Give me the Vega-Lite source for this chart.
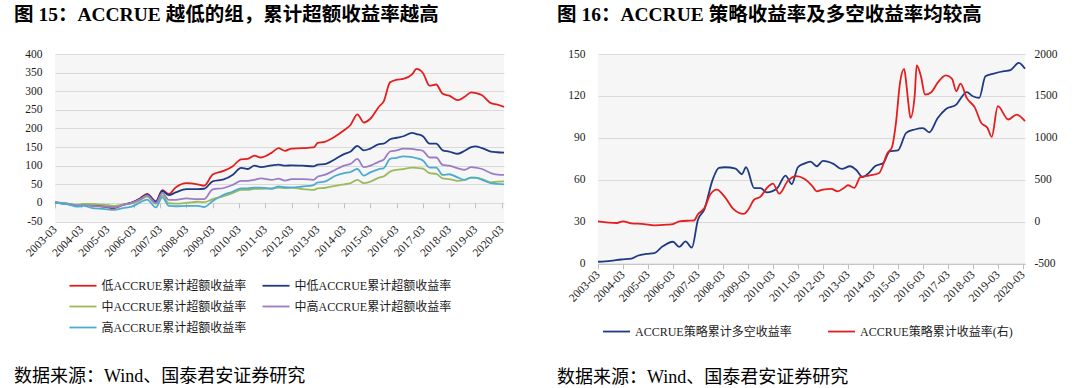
{
 "$schema": "https://vega.github.io/schema/vega-lite/v6.json",
 "background": "white",
 "padding": {"left": 14, "top": 5, "right": 5, "bottom": 5},
 "spacing": 49,
 "resolve": {"scale": {"color": "independent"}, "legend": {"color": "independent"}},
 "config": {
  "font": "Liberation Serif, Noto Sans CJK SC",
  "view": {"stroke": null, "fill": "#f6f6f6"},
  "axis": {"labelFont": "Liberation Serif, Noto Sans CJK SC", "labelFontSize": 11.5, "labelColor": "#1a1a1a", "gridColor": "#d9d9d9", "gridWidth": 1, "domain": false, "ticks": false, "tickSize": 0, "title": null},
  "legend": {"labelFont": "Liberation Serif, Noto Sans CJK SC", "labelFontSize": 12, "labelColor": "#1a1a1a", "labelLimit": 400, "symbolType": "stroke", "symbolSize": 729, "symbolStrokeWidth": 2, "labelOffset": 4},
  "line": {"strokeWidth": 1.8, "interpolate": "monotone"}
 },
 "datasets": {
  "L": [
   {"d":"2003-03","s":"低","v":1},{"d":"2003-03","s":"中低","v":1},{"d":"2003-03","s":"中","v":1},{"d":"2003-03","s":"中高","v":1},{"d":"2003-03","s":"高","v":1},
   {"d":"2003-09","s":"低","v":-3},{"d":"2003-09","s":"中低","v":-3},{"d":"2003-09","s":"中","v":-2},{"d":"2003-09","s":"中高","v":-3},{"d":"2003-09","s":"高","v":-4},
   {"d":"2004-01","s":"低","v":-7},{"d":"2004-01","s":"中低","v":-7},{"d":"2004-01","s":"中","v":-5},{"d":"2004-01","s":"中高","v":-7},{"d":"2004-01","s":"高","v":-10},
   {"d":"2004-04","s":"低","v":-5},{"d":"2004-04","s":"中低","v":-5},{"d":"2004-04","s":"中","v":-3},{"d":"2004-04","s":"中高","v":-6},{"d":"2004-04","s":"高","v":-8},
   {"d":"2004-08","s":"低","v":-7},{"d":"2004-08","s":"中低","v":-7},{"d":"2004-08","s":"中","v":-3},{"d":"2004-08","s":"中高","v":-8},{"d":"2004-08","s":"高","v":-14},
   {"d":"2005-01","s":"低","v":-10},{"d":"2005-01","s":"中低","v":-9},{"d":"2005-01","s":"中","v":-5},{"d":"2005-01","s":"中高","v":-10},{"d":"2005-01","s":"高","v":-16},
   {"d":"2005-06","s":"低","v":-14},{"d":"2005-06","s":"中低","v":-12},{"d":"2005-06","s":"中","v":-8},{"d":"2005-06","s":"中高","v":-12},{"d":"2005-06","s":"高","v":-19},
   {"d":"2005-10","s":"低","v":-5},{"d":"2005-10","s":"中低","v":-5},{"d":"2005-10","s":"中","v":-4},{"d":"2005-10","s":"中高","v":-6},{"d":"2005-10","s":"高","v":-14},
   {"d":"2006-02","s":"低","v":1},{"d":"2006-02","s":"中低","v":1},{"d":"2006-02","s":"中","v":-1},{"d":"2006-02","s":"中高","v":0},{"d":"2006-02","s":"高","v":-10},
   {"d":"2006-06","s":"低","v":13},{"d":"2006-06","s":"中低","v":12},{"d":"2006-06","s":"中","v":8},{"d":"2006-06","s":"中高","v":10},{"d":"2006-06","s":"高","v":2},
   {"d":"2006-09","s":"低","v":24},{"d":"2006-09","s":"中低","v":23},{"d":"2006-09","s":"中","v":17},{"d":"2006-09","s":"中高","v":20},{"d":"2006-09","s":"高","v":9},
   {"d":"2007-01","s":"低","v":4},{"d":"2007-01","s":"中低","v":3},{"d":"2007-01","s":"中","v":-2},{"d":"2007-01","s":"中高","v":-1},{"d":"2007-01","s":"高","v":-12},
   {"d":"2007-04","s":"低","v":34},{"d":"2007-04","s":"中低","v":32},{"d":"2007-04","s":"中","v":20},{"d":"2007-04","s":"中高","v":27},{"d":"2007-04","s":"高","v":15},
   {"d":"2007-07","s":"低","v":24},{"d":"2007-07","s":"中低","v":21},{"d":"2007-07","s":"中","v":-1},{"d":"2007-07","s":"中高","v":8},{"d":"2007-07","s":"高","v":-8},
   {"d":"2007-10","s":"低","v":41},{"d":"2007-10","s":"中低","v":28},{"d":"2007-10","s":"中","v":-2},{"d":"2007-10","s":"中高","v":8},{"d":"2007-10","s":"高","v":-9},
   {"d":"2008-03","s":"低","v":53},{"d":"2008-03","s":"中低","v":37},{"d":"2008-03","s":"中","v":0},{"d":"2008-03","s":"中高","v":12},{"d":"2008-03","s":"高","v":-8},
   {"d":"2008-08","s":"低","v":50},{"d":"2008-08","s":"中低","v":37},{"d":"2008-08","s":"中","v":3},{"d":"2008-08","s":"中高","v":10},{"d":"2008-08","s":"高","v":-8},
   {"d":"2008-11","s":"低","v":46},{"d":"2008-11","s":"中低","v":38},{"d":"2008-11","s":"中","v":2},{"d":"2008-11","s":"中高","v":10},{"d":"2008-11","s":"高","v":-11},
   {"d":"2009-03","s":"低","v":76},{"d":"2009-03","s":"中低","v":58},{"d":"2009-03","s":"中","v":10},{"d":"2009-03","s":"中高","v":36},{"d":"2009-03","s":"高","v":5},
   {"d":"2009-08","s":"低","v":86},{"d":"2009-08","s":"中低","v":63},{"d":"2009-08","s":"中","v":18},{"d":"2009-08","s":"中高","v":40},{"d":"2009-08","s":"高","v":22},
   {"d":"2009-12","s":"低","v":98},{"d":"2009-12","s":"中低","v":75},{"d":"2009-12","s":"中","v":26},{"d":"2009-12","s":"中高","v":48},{"d":"2009-12","s":"高","v":30},
   {"d":"2010-04","s":"低","v":117},{"d":"2010-04","s":"中低","v":94},{"d":"2010-04","s":"中","v":35},{"d":"2010-04","s":"中高","v":59},{"d":"2010-04","s":"高","v":39},
   {"d":"2010-07","s":"低","v":118},{"d":"2010-07","s":"中低","v":91},{"d":"2010-07","s":"中","v":35},{"d":"2010-07","s":"中高","v":59},{"d":"2010-07","s":"高","v":39},
   {"d":"2010-10","s":"低","v":127},{"d":"2010-10","s":"中低","v":100},{"d":"2010-10","s":"中","v":38},{"d":"2010-10","s":"中高","v":62},{"d":"2010-10","s":"高","v":41},
   {"d":"2011-01","s":"低","v":122},{"d":"2011-01","s":"中低","v":96},{"d":"2011-01","s":"中","v":38},{"d":"2011-01","s":"中高","v":66},{"d":"2011-01","s":"高","v":41},
   {"d":"2011-06","s":"低","v":135},{"d":"2011-06","s":"中低","v":101},{"d":"2011-06","s":"中","v":39},{"d":"2011-06","s":"中高","v":62},{"d":"2011-06","s":"高","v":38},
   {"d":"2011-09","s":"低","v":147},{"d":"2011-09","s":"中低","v":103},{"d":"2011-09","s":"中","v":41},{"d":"2011-09","s":"中高","v":65},{"d":"2011-09","s":"高","v":44},
   {"d":"2011-12","s":"低","v":140},{"d":"2011-12","s":"中低","v":100},{"d":"2011-12","s":"中","v":40},{"d":"2011-12","s":"中高","v":60},{"d":"2011-12","s":"高","v":42},
   {"d":"2012-03","s":"低","v":146},{"d":"2012-03","s":"中低","v":101},{"d":"2012-03","s":"中","v":41},{"d":"2012-03","s":"中高","v":64},{"d":"2012-03","s":"高","v":41},
   {"d":"2012-08","s":"低","v":147},{"d":"2012-08","s":"中低","v":100},{"d":"2012-08","s":"中","v":37},{"d":"2012-08","s":"中高","v":64},{"d":"2012-08","s":"高","v":44},
   {"d":"2013-01","s":"低","v":149},{"d":"2013-01","s":"中低","v":98},{"d":"2013-01","s":"中","v":35},{"d":"2013-01","s":"中高","v":62},{"d":"2013-01","s":"高","v":48},
   {"d":"2013-03","s":"低","v":161},{"d":"2013-03","s":"中低","v":103},{"d":"2013-03","s":"中","v":39},{"d":"2013-03","s":"中高","v":71},{"d":"2013-03","s":"高","v":55},
   {"d":"2013-06","s":"低","v":164},{"d":"2013-06","s":"中低","v":104},{"d":"2013-06","s":"中","v":40},{"d":"2013-06","s":"中高","v":75},{"d":"2013-06","s":"高","v":57},
   {"d":"2013-11","s":"低","v":179},{"d":"2013-11","s":"中低","v":118},{"d":"2013-11","s":"中","v":46},{"d":"2013-11","s":"中高","v":89},{"d":"2013-11","s":"高","v":73},
   {"d":"2014-03","s":"低","v":195},{"d":"2014-03","s":"中低","v":131},{"d":"2014-03","s":"中","v":50},{"d":"2014-03","s":"中高","v":100},{"d":"2014-03","s":"高","v":80},
   {"d":"2014-06","s":"低","v":210},{"d":"2014-06","s":"中低","v":138},{"d":"2014-06","s":"中","v":53},{"d":"2014-06","s":"中高","v":105},{"d":"2014-06","s":"高","v":83},
   {"d":"2014-09","s":"低","v":238},{"d":"2014-09","s":"中低","v":153},{"d":"2014-09","s":"中","v":62},{"d":"2014-09","s":"中高","v":118},{"d":"2014-09","s":"高","v":91},
   {"d":"2014-12","s":"低","v":216},{"d":"2014-12","s":"中低","v":141},{"d":"2014-12","s":"中","v":53},{"d":"2014-12","s":"中高","v":96},{"d":"2014-12","s":"高","v":73},
   {"d":"2015-03","s":"低","v":226},{"d":"2015-03","s":"中低","v":146},{"d":"2015-03","s":"中","v":57},{"d":"2015-03","s":"中高","v":100},{"d":"2015-03","s":"高","v":82},
   {"d":"2015-07","s":"低","v":259},{"d":"2015-07","s":"中低","v":158},{"d":"2015-07","s":"中","v":68},{"d":"2015-07","s":"中高","v":111},{"d":"2015-07","s":"高","v":91},
   {"d":"2015-09","s":"低","v":272},{"d":"2015-09","s":"中低","v":159},{"d":"2015-09","s":"中","v":71},{"d":"2015-09","s":"中高","v":116},{"d":"2015-09","s":"高","v":93},
   {"d":"2015-12","s":"低","v":324},{"d":"2015-12","s":"中低","v":171},{"d":"2015-12","s":"中","v":84},{"d":"2015-12","s":"中高","v":138},{"d":"2015-12","s":"高","v":118},
   {"d":"2016-03","s":"低","v":331},{"d":"2016-03","s":"中低","v":175},{"d":"2016-03","s":"中","v":89},{"d":"2016-03","s":"中高","v":141},{"d":"2016-03","s":"高","v":121},
   {"d":"2016-06","s":"低","v":333},{"d":"2016-06","s":"中低","v":179},{"d":"2016-06","s":"中","v":91},{"d":"2016-06","s":"中高","v":146},{"d":"2016-06","s":"高","v":125},
   {"d":"2016-10","s":"低","v":345},{"d":"2016-10","s":"中低","v":188},{"d":"2016-10","s":"中","v":95},{"d":"2016-10","s":"中高","v":145},{"d":"2016-10","s":"高","v":123},
   {"d":"2016-12","s":"低","v":360},{"d":"2016-12","s":"中低","v":185},{"d":"2016-12","s":"中","v":94},{"d":"2016-12","s":"中高","v":143},{"d":"2016-12","s":"高","v":120},
   {"d":"2017-03","s":"低","v":349},{"d":"2017-03","s":"中低","v":179},{"d":"2017-03","s":"中","v":92},{"d":"2017-03","s":"中高","v":140},{"d":"2017-03","s":"高","v":114},
   {"d":"2017-06","s":"低","v":315},{"d":"2017-06","s":"中低","v":159},{"d":"2017-06","s":"中","v":80},{"d":"2017-06","s":"中高","v":122},{"d":"2017-06","s":"高","v":95},
   {"d":"2017-09","s":"低","v":318},{"d":"2017-09","s":"中低","v":159},{"d":"2017-09","s":"中","v":78},{"d":"2017-09","s":"中高","v":122},{"d":"2017-09","s":"高","v":95},
   {"d":"2017-12","s":"低","v":293},{"d":"2017-12","s":"中低","v":141},{"d":"2017-12","s":"中","v":66},{"d":"2017-12","s":"中高","v":102},{"d":"2017-12","s":"高","v":75},
   {"d":"2018-03","s":"低","v":288},{"d":"2018-03","s":"中低","v":138},{"d":"2018-03","s":"中","v":64},{"d":"2018-03","s":"中高","v":100},{"d":"2018-03","s":"高","v":77},
   {"d":"2018-07","s":"低","v":276},{"d":"2018-07","s":"中低","v":132},{"d":"2018-07","s":"中","v":59},{"d":"2018-07","s":"中高","v":93},{"d":"2018-07","s":"高","v":68},
   {"d":"2018-10","s":"低","v":285},{"d":"2018-10","s":"中低","v":140},{"d":"2018-10","s":"中","v":62},{"d":"2018-10","s":"中高","v":89},{"d":"2018-10","s":"高","v":62},
   {"d":"2019-01","s":"低","v":297},{"d":"2019-01","s":"中低","v":150},{"d":"2019-01","s":"中","v":68},{"d":"2019-01","s":"中高","v":96},{"d":"2019-01","s":"高","v":68},
   {"d":"2019-03","s":"低","v":295},{"d":"2019-03","s":"中低","v":152},{"d":"2019-03","s":"中","v":67},{"d":"2019-03","s":"中高","v":95},{"d":"2019-03","s":"高","v":68},
   {"d":"2019-06","s":"低","v":289},{"d":"2019-06","s":"中低","v":147},{"d":"2019-06","s":"中","v":64},{"d":"2019-06","s":"中高","v":91},{"d":"2019-06","s":"高","v":62},
   {"d":"2019-10","s":"低","v":268},{"d":"2019-10","s":"中低","v":138},{"d":"2019-10","s":"中","v":55},{"d":"2019-10","s":"中高","v":80},{"d":"2019-10","s":"高","v":53},
   {"d":"2020-01","s":"低","v":264},{"d":"2020-01","s":"中低","v":136},{"d":"2020-01","s":"中","v":57},{"d":"2020-01","s":"中高","v":76},{"d":"2020-01","s":"高","v":51},
   {"d":"2020-04","s":"低","v":258},{"d":"2020-04","s":"中低","v":135},{"d":"2020-04","s":"中","v":58},{"d":"2020-04","s":"中高","v":75},{"d":"2020-04","s":"高","v":50}
  ],
  "R": [
   {"d":"2003-03","s":"多空","v":1.4},{"d":"2003-09","s":"多空","v":2},{"d":"2004-02","s":"多空","v":3},{"d":"2004-07","s":"多空","v":3.6},{"d":"2004-10","s":"多空","v":5.7},
   {"d":"2005-02","s":"多空","v":7},{"d":"2005-06","s":"多空","v":7.6},{"d":"2005-10","s":"多空","v":12.4},{"d":"2006-03","s":"多空","v":15.7},{"d":"2006-06","s":"多空","v":12},
   {"d":"2006-09","s":"多空","v":16},{"d":"2006-12","s":"多空","v":11.5},{"d":"2007-03","s":"多空","v":31.5},{"d":"2007-06","s":"多空","v":38.7},{"d":"2007-10","s":"多空","v":60},
   {"d":"2008-01","s":"多空","v":68.5},{"d":"2008-04","s":"多空","v":69},{"d":"2008-09","s":"多空","v":68},{"d":"2008-12","s":"多空","v":64},{"d":"2009-02","s":"多空","v":69},{"d":"2009-06","s":"多空","v":54},
   {"d":"2009-09","s":"多空","v":54},{"d":"2009-12","s":"多空","v":51},{"d":"2010-05","s":"多空","v":54},{"d":"2010-09","s":"多空","v":63},{"d":"2010-12","s":"多空","v":57},
   {"d":"2011-03","s":"多空","v":69},{"d":"2011-06","s":"多空","v":71.6},{"d":"2011-09","s":"多空","v":73},{"d":"2011-12","s":"多空","v":69.7},{"d":"2012-03","s":"多空","v":73.5},
   {"d":"2012-08","s":"多空","v":71.4},{"d":"2012-12","s":"多空","v":67.8},{"d":"2013-04","s":"多空","v":69.7},{"d":"2013-07","s":"多空","v":67},{"d":"2013-10","s":"多空","v":62},
   {"d":"2014-01","s":"多空","v":65},{"d":"2014-04","s":"多空","v":69.7},{"d":"2014-08","s":"多空","v":72},{"d":"2014-11","s":"多空","v":80.4},{"d":"2015-03","s":"多空","v":81},
   {"d":"2015-07","s":"多空","v":93.6},{"d":"2015-11","s":"多空","v":96},{"d":"2016-03","s":"多空","v":97},{"d":"2016-06","s":"多空","v":94},{"d":"2016-10","s":"多空","v":104},
   {"d":"2017-02","s":"多空","v":110.7},{"d":"2017-07","s":"多空","v":113.8},{"d":"2017-09","s":"多空","v":118},{"d":"2017-12","s":"多空","v":122.7},{"d":"2018-03","s":"多空","v":119.8},
   {"d":"2018-06","s":"多空","v":118.6},{"d":"2018-09","s":"多空","v":134},{"d":"2019-01","s":"多空","v":136},{"d":"2019-06","s":"多空","v":137.7},{"d":"2019-09","s":"多空","v":138.4},
   {"d":"2020-01","s":"多空","v":143.7},{"d":"2020-04","s":"多空","v":139.4},
   {"d":"2003-03","s":"策略","v":5},{"d":"2003-12","s":"策略","v":-15},{"d":"2004-03","s":"策略","v":5},{"d":"2004-07","s":"策略","v":-19},{"d":"2005-01","s":"策略","v":-27},
   {"d":"2005-06","s":"策略","v":-43},{"d":"2005-12","s":"策略","v":-35},{"d":"2006-03","s":"策略","v":-27},{"d":"2006-06","s":"策略","v":5},{"d":"2006-11","s":"策略","v":13},
   {"d":"2007-01","s":"策略","v":15},{"d":"2007-03","s":"策略","v":90},{"d":"2007-06","s":"策略","v":160},{"d":"2007-09","s":"策略","v":330},{"d":"2007-12","s":"策略","v":383},
   {"d":"2008-04","s":"策略","v":290},{"d":"2008-08","s":"策略","v":150},{"d":"2009-01","s":"策略","v":93},{"d":"2009-03","s":"策略","v":140},{"d":"2009-06","s":"策略","v":265},
   {"d":"2009-09","s":"策略","v":300},{"d":"2009-12","s":"策略","v":400},{"d":"2010-03","s":"策略","v":455},{"d":"2010-06","s":"策略","v":335},{"d":"2010-10","s":"策略","v":483},
   {"d":"2011-02","s":"策略","v":545},{"d":"2011-06","s":"策略","v":514},{"d":"2011-10","s":"策略","v":423},{"d":"2011-12","s":"策略","v":363},{"d":"2012-03","s":"策略","v":383},
   {"d":"2012-07","s":"策略","v":391},{"d":"2012-10","s":"策略","v":363},{"d":"2013-01","s":"策略","v":403},{"d":"2013-03","s":"策略","v":435},{"d":"2013-06","s":"策略","v":403},
   {"d":"2013-09","s":"策略","v":534},{"d":"2014-01","s":"策略","v":550},{"d":"2014-06","s":"策略","v":582},{"d":"2014-10","s":"策略","v":821},{"d":"2014-12","s":"策略","v":880},
   {"d":"2015-02","s":"策略","v":1179},{"d":"2015-04","s":"策略","v":1656},{"d":"2015-06","s":"策略","v":1823},{"d":"2015-07","s":"策略","v":1656},{"d":"2015-08","s":"策略","v":1417},
   {"d":"2015-09","s":"策略","v":1238},{"d":"2015-11","s":"策略","v":1497},{"d":"2015-12","s":"策略","v":1863},{"d":"2016-02","s":"策略","v":1736},{"d":"2016-04","s":"策略","v":1517},
   {"d":"2016-07","s":"策略","v":1545},{"d":"2016-10","s":"策略","v":1656},{"d":"2017-02","s":"策略","v":1744},{"d":"2017-05","s":"策略","v":1704},{"d":"2017-07","s":"策略","v":1557},
   {"d":"2017-09","s":"策略","v":1648},{"d":"2017-12","s":"策略","v":1477},{"d":"2018-04","s":"策略","v":1358},{"d":"2018-07","s":"策略","v":1179},{"d":"2018-10","s":"策略","v":1119},
   {"d":"2018-12","s":"策略","v":1012},{"d":"2019-03","s":"策略","v":1378},{"d":"2019-08","s":"策略","v":1219},{"d":"2019-12","s":"策略","v":1278},{"d":"2020-04","s":"策略","v":1199}
  ]
 },
 "hconcat": [
  {
   "title": {"text": "图 15：ACCRUE 越低的组，累计超额收益率越高", "anchor": "start", "frame": "bounds", "offset": 22.5, "fontSize": 19.5, "fontWeight": "bold", "color": "#000", "font": "Liberation Serif, Noto Sans CJK SC"},
   "vconcat": [
    {
     "width": 449, "height": 167.5,
     "title": {"text": "数据来源：Wind、国泰君安证券研究", "orient": "bottom", "anchor": "start", "frame": "group", "dx": -41, "offset": 110, "fontSize": 18, "fontWeight": "normal", "color": "#000", "font": "Liberation Serif, Noto Sans CJK SC"},
     "data": {"name": "L"},
     "encoding": {
      "y": {"field": "v", "type": "quantitative", "scale": {"domain": [-50, 400], "nice": false, "zero": false}, "axis": {"values": [-50, 0, 50, 100, 150, 200, 250, 300, 350, 400], "grid": true, "labelPadding": 13, "labelExpr": "'' + datum.value"}},
      "color": {"field": "s", "type": "nominal", "scale": {"domain": ["低", "中低", "中", "中高", "高"], "range": ["#e41e1e", "#1f3a84", "#9bbb59", "#9b7cc6", "#4bacd0"]},
       "legend": {"title": null, "orient": "none", "legendX": 13.5, "legendY": 217, "columns": 2, "rowPadding": -1.1, "columnPadding": 12, "values": ["低", "中", "高", "中低", "中高"], "labelExpr": "datum.label + 'ACCRUE累计超额收益率'"}}
     },
     "layer": [
      {"mark": {"type": "line", "strokeOpacity": 0},
       "encoding": {"x": {"field": "d", "type": "temporal",
         "scale": {"type": "utc", "domain": [{"year": 2003, "month": 3, "date": 1, "utc": true}, {"year": 2020, "month": 4, "date": 1, "utc": true}]},
         "axis": {"orient": "bottom", "offset": -18.7, "labels": false, "ticks": true, "tickSize": 5, "tickColor": "#bfbfbf", "domain": false, "grid": false,
          "values": [{"year":2003,"month":3,"date":1,"utc":true},{"year":2004,"month":3,"date":1,"utc":true},{"year":2005,"month":3,"date":1,"utc":true},{"year":2006,"month":3,"date":1,"utc":true},{"year":2007,"month":3,"date":1,"utc":true},{"year":2008,"month":3,"date":1,"utc":true},{"year":2009,"month":3,"date":1,"utc":true},{"year":2010,"month":3,"date":1,"utc":true},{"year":2011,"month":3,"date":1,"utc":true},{"year":2012,"month":3,"date":1,"utc":true},{"year":2013,"month":3,"date":1,"utc":true},{"year":2014,"month":3,"date":1,"utc":true},{"year":2015,"month":3,"date":1,"utc":true},{"year":2016,"month":3,"date":1,"utc":true},{"year":2017,"month":3,"date":1,"utc":true},{"year":2018,"month":3,"date":1,"utc":true},{"year":2019,"month":3,"date":1,"utc":true},{"year":2020,"month":3,"date":1,"utc":true}]}}}},
      {"mark": {"type": "line"},
       "encoding": {"x": {"field": "d", "type": "temporal",
         "scale": {"type": "utc", "domain": [{"year": 2003, "month": 3, "date": 1, "utc": true}, {"year": 2020, "month": 4, "date": 1, "utc": true}]},
         "axis": {"orient": "bottom", "format": "%Y-%m", "labelAngle": -45, "labelAlign": "right", "labelBaseline": "middle", "labelPadding": 6, "grid": false, "labelOverlap": false,
          "values": [{"year":2003,"month":3,"date":1,"utc":true},{"year":2004,"month":3,"date":1,"utc":true},{"year":2005,"month":3,"date":1,"utc":true},{"year":2006,"month":3,"date":1,"utc":true},{"year":2007,"month":3,"date":1,"utc":true},{"year":2008,"month":3,"date":1,"utc":true},{"year":2009,"month":3,"date":1,"utc":true},{"year":2010,"month":3,"date":1,"utc":true},{"year":2011,"month":3,"date":1,"utc":true},{"year":2012,"month":3,"date":1,"utc":true},{"year":2013,"month":3,"date":1,"utc":true},{"year":2014,"month":3,"date":1,"utc":true},{"year":2015,"month":3,"date":1,"utc":true},{"year":2016,"month":3,"date":1,"utc":true},{"year":2017,"month":3,"date":1,"utc":true},{"year":2018,"month":3,"date":1,"utc":true},{"year":2019,"month":3,"date":1,"utc":true},{"year":2020,"month":3,"date":1,"utc":true}]}}}}
     ],
     "resolve": {"axis": {"x": "independent"}}
    }
   ]
  },
  {
   "title": {"text": "图 16：ACCRUE 策略收益率及多空收益率均较高", "anchor": "start", "frame": "bounds", "offset": 22.5, "fontSize": 19.5, "fontWeight": "bold", "color": "#000", "font": "Liberation Serif, Noto Sans CJK SC"},
   "vconcat": [
    {
     "width": 427, "height": 209.7,
     "title": {"text": "数据来源：Wind、国泰君安证券研究", "orient": "bottom", "anchor": "start", "frame": "group", "dx": -41, "offset": 65, "fontSize": 18, "fontWeight": "normal", "color": "#000", "font": "Liberation Serif, Noto Sans CJK SC"},
     "data": {"name": "R"},
     "encoding": {
      "x": {"field": "d", "type": "temporal",
       "scale": {"type": "utc", "domain": [{"year": 2003, "month": 3, "date": 1, "utc": true}, {"year": 2020, "month": 4, "date": 1, "utc": true}]},
       "axis": {"orient": "bottom", "format": "%Y-%m", "labelAngle": -45, "labelAlign": "right", "labelBaseline": "middle", "labelPadding": 4, "grid": false, "labelOverlap": false,
        "domain": true, "domainColor": "#bfbfbf", "ticks": true, "tickSize": 5, "tickColor": "#bfbfbf",
        "values": [{"year":2003,"month":3,"date":1,"utc":true},{"year":2004,"month":3,"date":1,"utc":true},{"year":2005,"month":3,"date":1,"utc":true},{"year":2006,"month":3,"date":1,"utc":true},{"year":2007,"month":3,"date":1,"utc":true},{"year":2008,"month":3,"date":1,"utc":true},{"year":2009,"month":3,"date":1,"utc":true},{"year":2010,"month":3,"date":1,"utc":true},{"year":2011,"month":3,"date":1,"utc":true},{"year":2012,"month":3,"date":1,"utc":true},{"year":2013,"month":3,"date":1,"utc":true},{"year":2014,"month":3,"date":1,"utc":true},{"year":2015,"month":3,"date":1,"utc":true},{"year":2016,"month":3,"date":1,"utc":true},{"year":2017,"month":3,"date":1,"utc":true},{"year":2018,"month":3,"date":1,"utc":true},{"year":2019,"month":3,"date":1,"utc":true},{"year":2020,"month":3,"date":1,"utc":true}]}},
      "color": {"field": "s", "type": "nominal", "scale": {"domain": ["多空", "策略"], "range": ["#1f3a84", "#e41e1e"]},
       "legend": {"title": null, "orient": "none", "legendX": 4, "legendY": 262.8, "columns": 2, "columnPadding": 32, "labelExpr": "datum.label == '多空' ? 'ACCRUE策略累计多空收益率' : 'ACCRUE策略累计收益率(右)'"}}
     },
     "layer": [
      {"transform": [{"filter": "datum.s == '多空'"}],
       "mark": {"type": "line"},
       "encoding": {"y": {"field": "v", "type": "quantitative", "scale": {"domain": [0, 150], "nice": false, "zero": false}, "axis": {"orient": "left", "values": [0, 30, 60, 90, 120, 150], "grid": true, "labelPadding": 13}}}},
      {"transform": [{"filter": "datum.s == '策略'"}],
       "mark": {"type": "line"},
       "encoding": {"y": {"field": "v", "type": "quantitative", "scale": {"domain": [-500, 2000], "nice": false, "zero": false}, "axis": {"orient": "right", "values": [-500, 0, 500, 1000, 1500, 2000], "grid": false, "labelPadding": 9, "labelExpr": "'' + datum.value"}}}}
     ],
     "resolve": {"scale": {"y": "independent"}}
    }
   ]
  }
 ]
}
